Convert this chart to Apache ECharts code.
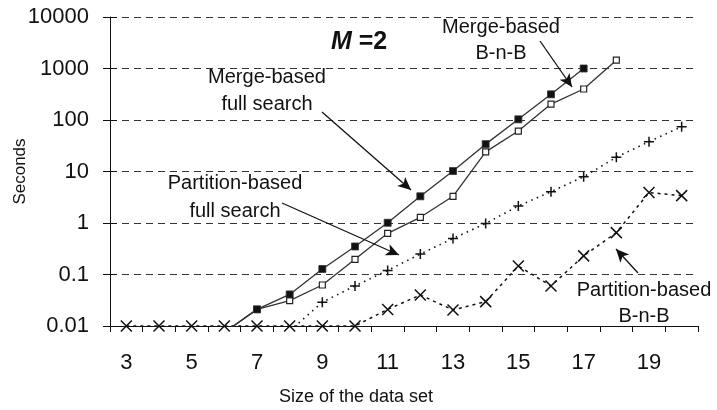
<!DOCTYPE html>
<html>
<head>
<meta charset="utf-8">
<script src="https://cdn.jsdelivr.net/npm/echarts@6/dist/echarts.min.js"></script>
<style>
  html, body { margin: 0; padding: 0; background: #fff; }
  #chart { width: 717px; height: 410px; }
</style>
</head>
<body>
<div id="chart"></div>
<script>
// 数据：横轴为数据集大小，纵轴为秒（对数）
var categories = ['3','4','5','6','7','8','9','10','11','12','13','14','15','16','17','18','19','20'];
var yTicks = [0.01, 0.1, 1, 10, 100, 1000, 10000];

// 低于 0.01 的值会被坐标轴裁掉，只剩线段的一部分
var mergeFull = [null, null, null, 0.0075, 0.021, 0.041, 0.128, 0.35, 1.01, 3.3, 10.2, 34, 103, 315, 1000, null, null, null];
var mergeBnB = [null, null, null, 0.0075, 0.021, 0.031, 0.0625, 0.197, 0.63, 1.29, 3.3, 24, 61, 204, 400, 1450, null, null];
var partFull = [null, null, null, null, null, 0.008, 0.029, 0.06, 0.12, 0.25, 0.5, 0.98, 2.14, 4.05, 7.9, 18.9, 38, 74];
var partBnB = [0.01, 0.01, 0.01, 0.01, 0.01, 0.01, 0.01, 0.01, 0.021, 0.04, 0.0205, 0.0297, 0.146, 0.06, 0.23, 0.65, 3.9, 3.4];

var FONT = '"Liberation Sans", Arial, sans-serif';
var plusPath = 'path://M0,5L10,5M5,0L5,10';
var crossPath = 'path://M0,0L10,10M10,0L0,10';

// 箭头（像素坐标）
function arrow(x1, y1, x2, y2) {
  return [{ x: x1, y: y1 }, { x: x2, y: y2 }];
}

var chart = echarts.init(document.getElementById('chart'));

var option = {
  animation: false,
  backgroundColor: '#fff',
  grid: { left: 110, right: 19, top: 17, bottom: 84, containLabel: false, outerBoundsMode: 'none' },
  xAxis: {
    type: 'category',
    data: categories,
    boundaryGap: true,
    name: 'Size of the data set',
    nameLocation: 'middle',
    nameGap: 62,
    nameMoveOverlap: false,
    nameTextStyle: { fontFamily: FONT, fontSize: 18, color: '#111', padding: [0, 96, 0, 0] },
    axisLine: { lineStyle: { color: '#111', width: 1 } },
    axisTick: { show: true, interval: 0, length: 6, lineStyle: { color: '#111' } },
    axisLabel: { interval: 1, margin: 26, fontFamily: FONT, fontSize: 22, color: '#111' },
    splitLine: { show: false }
  },
  yAxis: [
    {
      type: 'log',
      logBase: 10,
      min: 0.01,
      max: 10000,
      position: 'left',
      name: 'Seconds',
      nameLocation: 'middle',
      nameRotate: 90,
      nameGap: 81,
      nameMoveOverlap: false,
      nameTextStyle: { fontFamily: FONT, fontSize: 17, color: '#111' },
      axisLine: { show: true, lineStyle: { color: '#111', width: 1 } },
      axisTick: { show: true, length: 7, lineStyle: { color: '#111' } },
      minorTick: { show: false },
      axisLabel: {
        margin: 21, fontFamily: FONT, fontSize: 22, color: '#111',
        formatter: function (v) { return String(+Number(v).toPrecision(4)); }
      },
      splitLine: { show: true, lineStyle: { color: '#333', width: 1, type: [7, 5] } }
    },
    {
      // 只用来画朝内的刻度
      type: 'log',
      logBase: 10,
      min: 0.01,
      max: 10000,
      position: 'left',
      axisLine: { show: false },
      axisTick: { show: true, inside: true, length: 7, lineStyle: { color: '#111' } },
      axisLabel: { show: false },
      splitLine: { show: false }
    }
  ],
  graphic: [
    { type: 'text', left: 331, top: 30, style: { text: '{m|M} =2', font: 'bold 25px ' + FONT, fill: '#111',
      rich: { m: { fontStyle: 'italic', fontWeight: 'bold', fontSize: 25, fontFamily: FONT, fill: '#111' } } } },
    { type: 'text', x: 267, y: 91, style: { text: 'Merge-based\nfull search', font: '20px ' + FONT, fill: '#111', align: 'center', verticalAlign: 'middle', lineHeight: 27 } },
    { type: 'text', x: 501, y: 40, style: { text: 'Merge-based\nB-n-B', font: '20px ' + FONT, fill: '#111', align: 'center', verticalAlign: 'middle', lineHeight: 26 } },
    { type: 'text', x: 235, y: 197, style: { text: 'Partition-based\nfull search', font: '20px ' + FONT, fill: '#111', align: 'center', verticalAlign: 'middle', lineHeight: 28 } },
    { type: 'text', x: 644, y: 303, style: { text: 'Partition-based\nB-n-B', font: '20px ' + FONT, fill: '#111', align: 'center', verticalAlign: 'middle', lineHeight: 26 } }
  ],
  series: [
    {
      name: 'Merge-based B-n-B',
      type: 'line',
      data: mergeBnB,
      symbol: 'rect',
      symbolSize: 6,
      showAllSymbol: true,
      lineStyle: { color: '#333', width: 1.3 },
      itemStyle: { color: '#fff', borderColor: '#222', borderWidth: 1.2 },
      z: 3,
      markLine: {
        silent: true,
        symbol: ['none', 'arrow'],
        symbolSize: [9, 13],
        label: { show: false },
        lineStyle: { color: '#111', width: 1.3, type: 'solid' },
        data: [
          arrow(322, 112, 411, 190),
          arrow(540, 41, 572, 87),
          arrow(282, 203, 399, 255),
          arrow(638, 273, 616, 249)
        ]
      }
    },
    {
      name: 'Merge-based full search',
      type: 'line',
      data: mergeFull,
      symbol: 'rect',
      symbolSize: 7,
      showAllSymbol: true,
      lineStyle: { color: '#333', width: 1.3 },
      itemStyle: { color: '#111', borderColor: '#333', borderWidth: 0.8 },
      z: 4
    },
    {
      name: 'Partition-based full search',
      type: 'line',
      data: partFull,
      symbol: plusPath,
      symbolSize: 10,
      showAllSymbol: true,
      lineStyle: { color: '#111', width: 1.6, type: [1.5, 4.5] },
      itemStyle: { color: 'none', borderColor: '#111', borderWidth: 1.5 },
      z: 3
    },
    {
      name: 'Partition-based B-n-B',
      type: 'line',
      data: partBnB,
      symbol: crossPath,
      symbolSize: 11,
      showAllSymbol: true,
      lineStyle: { color: '#111', width: 1.5, type: [3, 4] },
      itemStyle: { color: 'none', borderColor: '#111', borderWidth: 1.5 },
      z: 3
    }
  ]
};

chart.setOption(option);
</script>
</body>
</html>
